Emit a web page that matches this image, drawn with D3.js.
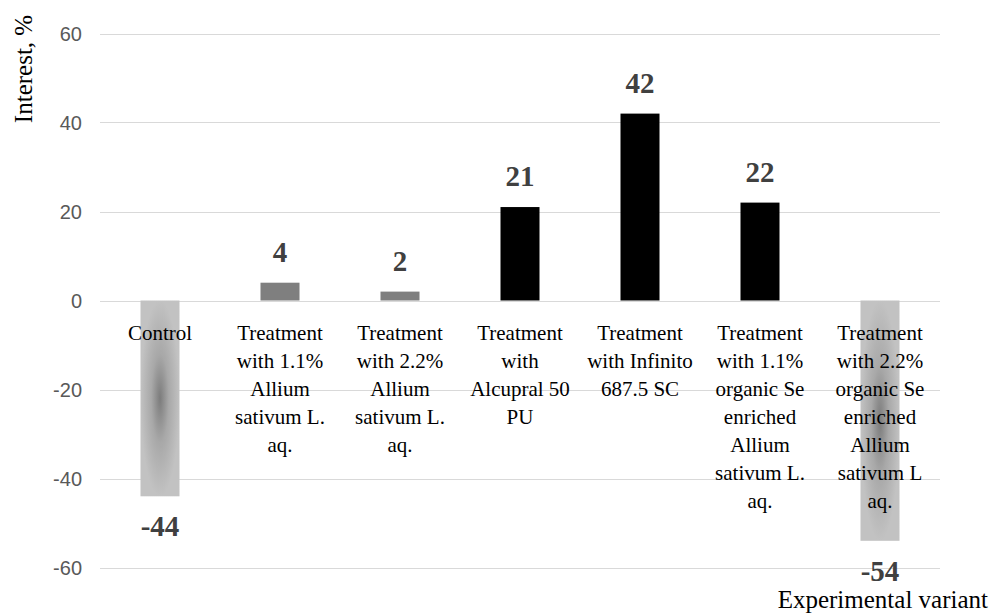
<!DOCTYPE html>
<html>
<head>
<meta charset="utf-8">
<script src="https://cdn.jsdelivr.net/npm/d3@7"></script>
<style>
  html, body { margin: 0; padding: 0; background: #fff; }
  svg { display: block; }
  .serif { font-family: "Liberation Serif", "Times New Roman", serif; }
  .sans { font-family: "Liberation Sans", Arial, sans-serif; }
</style>
</head>
<body>
<svg id="chart" width="990" height="616"></svg>
<script>
// Change in interest (%) by experimental variant
const categories = [
  ["Control"],
  ["Treatment", "with 1.1%", "Allium", "sativum L.", "aq."],
  ["Treatment", "with 2.2%", "Allium", "sativum L.", "aq."],
  ["Treatment", "with", "Alcupral 50", "PU"],
  ["Treatment", "with Infinito", "687.5 SC"],
  ["Treatment", "with 1.1%", "organic Se", "enriched", "Allium", "sativum L.", "aq."],
  ["Treatment", "with 2.2%", "organic Se", "enriched", "Allium", "sativum L", "aq."]
];
const values = [-44, 4, 2, 21, 42, 22, -54];
const fillKinds = ["grad", "gray", "gray", "black", "black", "black", "grad"];
const yTicks = [-60, -40, -20, 0, 20, 40, 60];

const svg = d3.select("#chart");
const left = 100, right = 940;

const x = d3.scaleBand()
  .domain(d3.range(values.length))
  .range([left, right])
  .paddingInner(0.675)
  .paddingOuter(0.3375);

const y = d3.scaleLinear().domain([-60, 60]).range([567.5, 33.5]);

// shaded fill for the negative bars
const defs = svg.append("defs");
const rg = defs.append("radialGradient")
  .attr("id", "barShade")
  .attr("cx", "50%").attr("cy", "50%").attr("r", "50%");
rg.append("stop").attr("offset", "0%").attr("stop-color", "#7c7c7c");
rg.append("stop").attr("offset", "45%").attr("stop-color", "#a8a8a8");
rg.append("stop").attr("offset", "100%").attr("stop-color", "#c2c2c2");

const fills = { grad: "url(#barShade)", gray: "#7f7f7f", black: "#000000" };

// gridlines
svg.append("g")
  .selectAll("line")
  .data(yTicks)
  .join("line")
  .attr("x1", left).attr("x2", right)
  .attr("y1", d => Math.round(y(d)) + 0.5)
  .attr("y2", d => Math.round(y(d)) + 0.5)
  .attr("stroke", "#d9d9d9")
  .attr("stroke-width", 1);

// y axis tick labels (plain hyphen for negatives)
const yAxis = d3.axisLeft(y).tickValues(yTicks).tickSize(0).tickPadding(0)
  .tickFormat(d => String(d));
const yg = svg.append("g").attr("transform", "translate(82,0)").call(yAxis);
yg.select(".domain").remove();
yg.attr("font-family", null).attr("font-size", null);
yg.selectAll("text")
  .attr("class", "sans")
  .attr("font-size", 20)
  .attr("fill", "#595959")
  .attr("dy", "0.35em");

// bars
svg.append("g")
  .selectAll("rect")
  .data(values)
  .join("rect")
  .attr("x", (d, i) => x(i))
  .attr("width", x.bandwidth())
  .attr("y", d => y(Math.max(0, d)))
  .attr("height", d => Math.abs(y(d) - y(0)))
  .attr("fill", (d, i) => fills[fillKinds[i]]);

// category labels (multi-line, drawn over the bars)
const catG = svg.append("g");
categories.forEach((lines, i) => {
  const cx = x(i) + x.bandwidth() / 2;
  const t = catG.append("text")
    .attr("class", "serif")
    .attr("font-size", 21)
    .attr("fill", "#000")
    .attr("text-anchor", "middle")
    .attr("x", cx)
    .attr("y", 340);
  lines.forEach((ln, j) => {
    t.append("tspan")
      .attr("x", cx)
      .attr("dy", j === 0 ? 0 : 28)
      .text(ln);
  });
});

// value labels
svg.append("g")
  .selectAll("text")
  .data(values)
  .join("text")
  .attr("class", "serif")
  .attr("font-size", 29)
  .attr("font-weight", "bold")
  .attr("fill", "#404040")
  .attr("text-anchor", "middle")
  .attr("x", (d, i) => x(i) + x.bandwidth() / 2)
  .attr("y", d => d >= 0 ? y(d) - 21 : y(d) + 40)
  .text(d => d);

// axis titles
svg.append("text")
  .attr("class", "serif")
  .attr("transform", "translate(32,69) rotate(-90)")
  .attr("text-anchor", "middle")
  .attr("font-size", 25)
  .attr("fill", "#000")
  .text("Interest, %");

svg.append("text")
  .attr("class", "serif")
  .attr("x", 988)
  .attr("y", 608)
  .attr("text-anchor", "end")
  .attr("font-size", 25)
  .attr("fill", "#000")
  .text("Experimental variant");
</script>
</body>
</html>
